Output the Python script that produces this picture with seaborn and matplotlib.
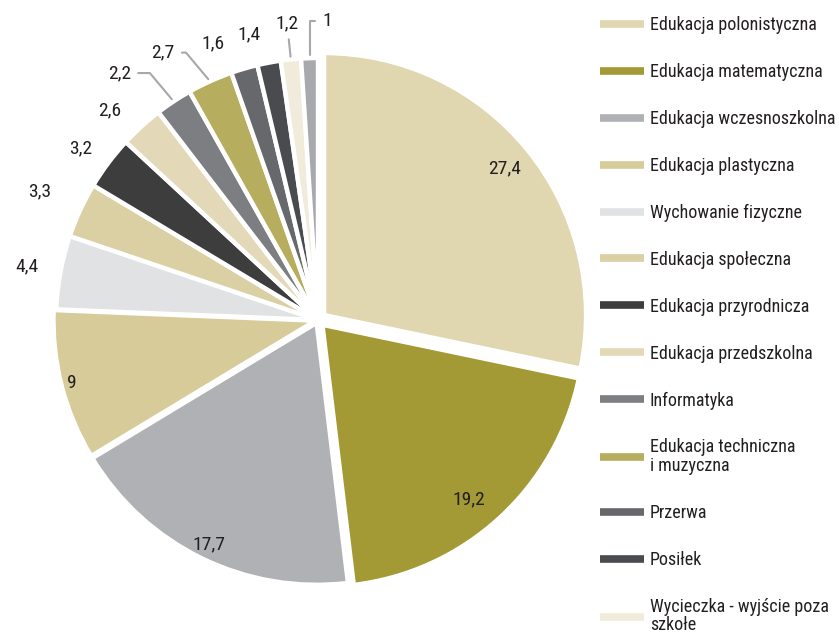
import numpy as np
import matplotlib
matplotlib.use("Agg")
import matplotlib.pyplot as plt
from matplotlib import font_manager
from matplotlib.lines import Line2D
import seaborn as sns

# dane
subjects = [
    "Edukacja polonistyczna",
    "Edukacja matematyczna",
    "Edukacja wczesnoszkolna",
    "Edukacja plastyczna",
    "Wychowanie fizyczne",
    "Edukacja społeczna",
    "Edukacja przyrodnicza",
    "Edukacja przedszkolna",
    "Informatyka",
    "Edukacja techniczna\ni muzyczna",
    "Przerwa",
    "Posiłek",
    "Wycieczka - wyjście poza\nszkołe",
    "Inne",
]
shares = [27.4, 19.2, 17.7, 9, 4.4, 3.3, 3.2, 2.6, 2.2, 2.7, 1.6, 1.4, 1.2, 1]
share_labels = ["27,4", "19,2", "17,7", "9", "4,4", "3,3", "3,2", "2,6",
                "2,2", "2,7", "1,6", "1,4", "1,2", "1"]
colors = ["#E0D6B0", "#A39935", "#B0B1B4", "#D6CB99", "#E1E2E4", "#DAD0A4",
          "#3D3D3D", "#E3D9B8", "#7D7E82", "#B6AD5E", "#67686C", "#4A4B4E",
          "#F0EBDA", "#A8A9AD"]
n_legend = 13

# układ etykiet (promień, przesunięcie kąta)
lab_r = [0.89, 0.87, 0.94, 0.96, 1.13, 1.17, 1.12, 1.13, 1.21, 1.18, 1.13, 1.12, 1.14, 1.14]
lab_da = [0, -2.5, 0, 0, 0, 0, 1, 2.5, 5.4, 5.8, 4.5, 2.8, 0, -3.7]
explode = [0.03, 0.025, 0.012, 0.01, 0, 0, 0, 0, 0, 0, 0, 0, 0, 0]

sns.set_theme(style="white")
names = {f.name for f in font_manager.fontManager.ttflist}
fam = "DejaVu Sans"
for cand in ["Liberation Sans Narrow", "Roboto Condensed", "Open Sans Condensed", "Noto Sans"]:
    if cand in names:
        fam = cand
        break
plt.rcParams["font.family"] = [fam, "DejaVu Sans"]
txt_color = "#231F20"

fig = plt.figure(figsize=(8.39, 6.37), dpi=100)
ax = fig.add_axes([0, 0, 1, 1])

wedges, _ = ax.pie(shares, colors=colors, startangle=90, counterclock=False,
                   explode=explode, radius=1.0,
                   wedgeprops=dict(edgecolor="white", linewidth=3.2))

px = 262.0
cx, cy = 318, 320
ax.set_xlim(-cx / px, (839 - cx) / px)
ax.set_ylim(-(637 - cy) / px, cy / px)
ax.set_aspect("equal")
ax.axis("off")

lead = "#A7A8AB"
for i, w in enumerate(wedges):
    mid = (w.theta1 + w.theta2) / 2
    a = np.deg2rad(mid + lab_da[i])
    x0, y0 = w.center
    tx = x0 + lab_r[i] * np.cos(a)
    ty = y0 + lab_r[i] * np.sin(a)
    am = np.deg2rad(mid)
    ex, ey = x0 + 1.0 * np.cos(am), y0 + 1.0 * np.sin(am)
    if share_labels[i] in ("2,2", "2,7"):
        ax.annotate(share_labels[i], xy=(ex, ey), xytext=(tx, ty),
                    ha="center", va="center", fontsize=14, color=txt_color,
                    arrowprops=dict(arrowstyle="-", color=lead, lw=1.5,
                                    shrinkA=3, shrinkB=2,
                                    connectionstyle="angle,angleA=0,angleB=130,rad=0"))
    elif share_labels[i] == "1,2":
        ax.annotate(share_labels[i], xy=(ex, ey), xytext=(tx, ty),
                    ha="center", va="center", fontsize=14, color=txt_color,
                    arrowprops=dict(arrowstyle="-", color=lead, lw=1.5,
                                    shrinkA=3, shrinkB=2))
    elif share_labels[i] == "1":
        ax.annotate(share_labels[i], xy=(ex, ey), xytext=(tx, ty),
                    ha="center", va="center", fontsize=14, color=txt_color,
                    arrowprops=dict(arrowstyle="-", color=lead, lw=1.5,
                                    shrinkA=3, shrinkB=2,
                                    connectionstyle="angle,angleA=180,angleB=90,rad=0"))
    else:
        ax.text(tx, ty, share_labels[i], ha="center", va="center",
                fontsize=14, color=txt_color)

handles = [Line2D([0], [0], color=c, lw=5.5, solid_capstyle="butt") for c in colors[:n_legend]]
leg = fig.legend(handles, subjects[:n_legend], loc="upper left",
                 bbox_to_anchor=(593 / 839, 1 - 9 / 637), frameon=False,
                 fontsize=13, handlelength=2.4, handletextpad=0.35,
                 labelspacing=1.6, borderaxespad=0, labelcolor=txt_color)
for t in leg.get_texts():
    t.set_linespacing(1.05)

fig.savefig("out.png", dpi=100)
